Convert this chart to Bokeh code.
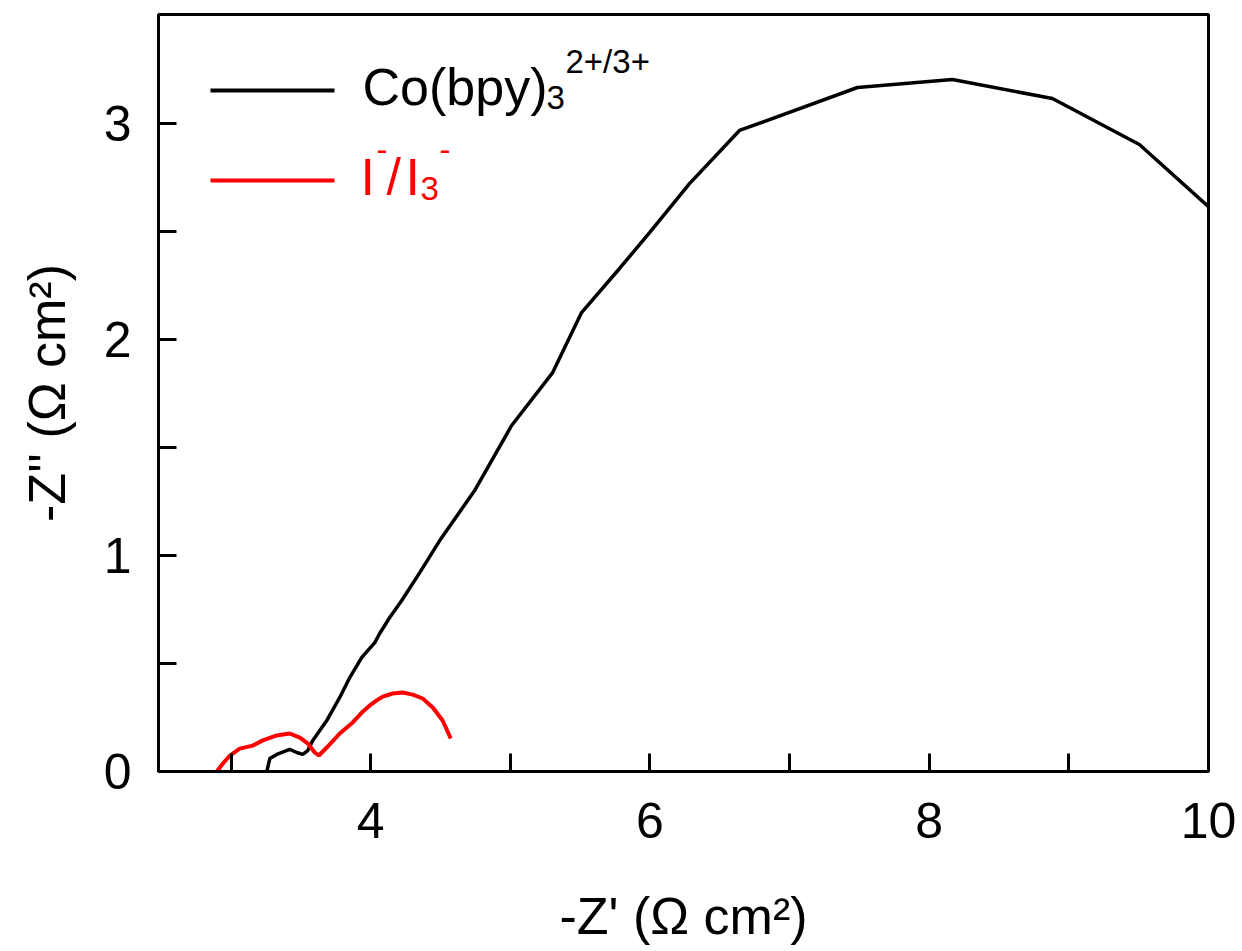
from bokeh.plotting import figure
from bokeh.models import Range1d, FixedTicker, Label, Arrow
from bokeh.embed import file_html
from bokeh.resources import INLINE

# ---- data ----
co_x = [3.256, 3.277, 3.327, 3.42, 3.47, 3.513, 3.549, 3.585, 3.685, 3.778, 3.85, 3.936,
        4.029, 4.064, 4.136, 4.222, 4.351, 4.494, 4.744, 5.009, 5.303, 5.51, 5.782, 5.997,
        6.283, 6.641, 7.486, 8.166, 8.882, 9.505, 10.0]
co_y = [0.0, 0.06, 0.079, 0.102, 0.088, 0.079, 0.097, 0.144, 0.236, 0.343, 0.435, 0.528,
        0.597, 0.639, 0.713, 0.792, 0.921, 1.069, 1.301, 1.602, 1.847, 2.125, 2.329, 2.495,
        2.722, 2.968, 3.167, 3.204, 3.116, 2.903, 2.615]

i_x = [2.898, 2.941, 2.991, 3.062, 3.155, 3.227, 3.327, 3.42, 3.492, 3.549, 3.599, 3.628,
       3.685, 3.778, 3.871, 3.936, 3.993, 4.043, 4.086, 4.157, 4.229, 4.301, 4.372, 4.444,
       4.515, 4.573]
i_y = [0.0, 0.037, 0.074, 0.106, 0.12, 0.144, 0.167, 0.176, 0.157, 0.13, 0.088, 0.074,
       0.111, 0.176, 0.227, 0.273, 0.306, 0.329, 0.347, 0.361, 0.366, 0.356, 0.338, 0.296,
       0.236, 0.153]

x_ticks = [3, 4, 5, 6, 7, 8, 9, 10]
x_labels = {3: "", 4: "4", 5: "", 6: "6", 7: "", 8: "8", 9: "", 10: "10"}
y_ticks = [0, 0.5, 1, 1.5, 2, 2.5, 3]
y_labels = {0: "0", 0.5: "", 1: "1", 1.5: "", 2: "2", 2.5: "", 3: "3"}

X0, X1 = 2.48, 10.0
Y0, Y1 = 0.0, 3.505

# ---- layout ----
FL, FT, FW, FH = 158, 14, 1050, 757
FONT = "Liberation Sans"

p = figure(frame_width=FW, frame_height=FH, min_border_left=FL, min_border_top=FT,
           min_border_right=34, min_border_bottom=180,
           x_range=Range1d(X0, X1), y_range=Range1d(Y0, Y1),
           output_backend="svg", toolbar_location=None)
p.background_fill_color = "white"
p.border_fill_color = "white"
p.grid.visible = False
p.outline_line_color = "black"
p.outline_line_width = 3
p.outline_line_alpha = 1.0

for ax in (p.xaxis[0], p.yaxis[0]):
    ax.axis_line_width = 3
    ax.major_tick_line_width = 3
    ax.major_tick_in = 18
    ax.major_tick_out = 0
    ax.minor_tick_line_color = None
    ax.major_label_text_font = FONT
    ax.major_label_text_font_size = "50px"
    ax.major_label_text_color = "black"
    ax.axis_label_text_font = FONT
    ax.axis_label_text_font_size = "52px"
    ax.axis_label_text_font_style = "normal"
    ax.axis_label_text_color = "black"

p.xaxis.ticker = FixedTicker(ticks=x_ticks)
p.xaxis.major_label_overrides = x_labels
p.xaxis.major_label_standoff = 31
p.xaxis.axis_label = "-Z' (\u03a9 cm\u00b2)"
p.xaxis.axis_label_standoff = 46

p.yaxis.ticker = FixedTicker(ticks=y_ticks)
p.yaxis.major_label_overrides = y_labels
p.yaxis.major_label_standoff = 27
p.yaxis.axis_label = "-Z'' (\u03a9 cm\u00b2)"
p.yaxis.axis_label_standoff = 25

p.line(co_x, co_y, line_color="black", line_width=3.5)
p.line(i_x, i_y, line_color="#ff0000", line_width=4)

# ---- legend (built by hand, positions in pixels of the page) ----
def sx(px):
    return X0 + (px - FL) / FW * (X1 - X0)

def sy(py):
    return Y1 - (py - FT) / FH * (Y1 - Y0)

for (x_a, x_b, yy, col) in [(210, 334, 90, "black"), (210, 334, 180, "#ff0000")]:
    p.add_layout(Arrow(end=None, start=None, x_start=sx(x_a), x_end=sx(x_b),
                       y_start=sy(yy), y_end=sy(yy), line_color=col, line_width=4))

def lab(text, px, py, size, color):
    p.add_layout(Label(x=sx(px), y=sy(py), text=text, text_font=FONT,
                       text_font_size=size, text_color=color,
                       text_baseline="alphabetic", text_align="left"))

DY = -19
lab("Co(bpy)", 362, 105 + DY, "52px", "black")
lab("3", 546, 116 + DY, "33px", "black")
lab("2+/3+", 565, 80 + DY, "33px", "black")

lab("I", 360, 195 + DY, "52px", "#ff0000")
lab("-", 376, 168 + DY, "33px", "#ff0000")
lab("/", 386, 195 + DY, "52px", "#ff0000")
lab("I", 405, 195 + DY, "52px", "#ff0000")
lab("3", 420, 207 + DY, "33px", "#ff0000")
lab("-", 439, 168 + DY, "33px", "#ff0000")

open("out.html", "w").write(file_html(p, INLINE))
